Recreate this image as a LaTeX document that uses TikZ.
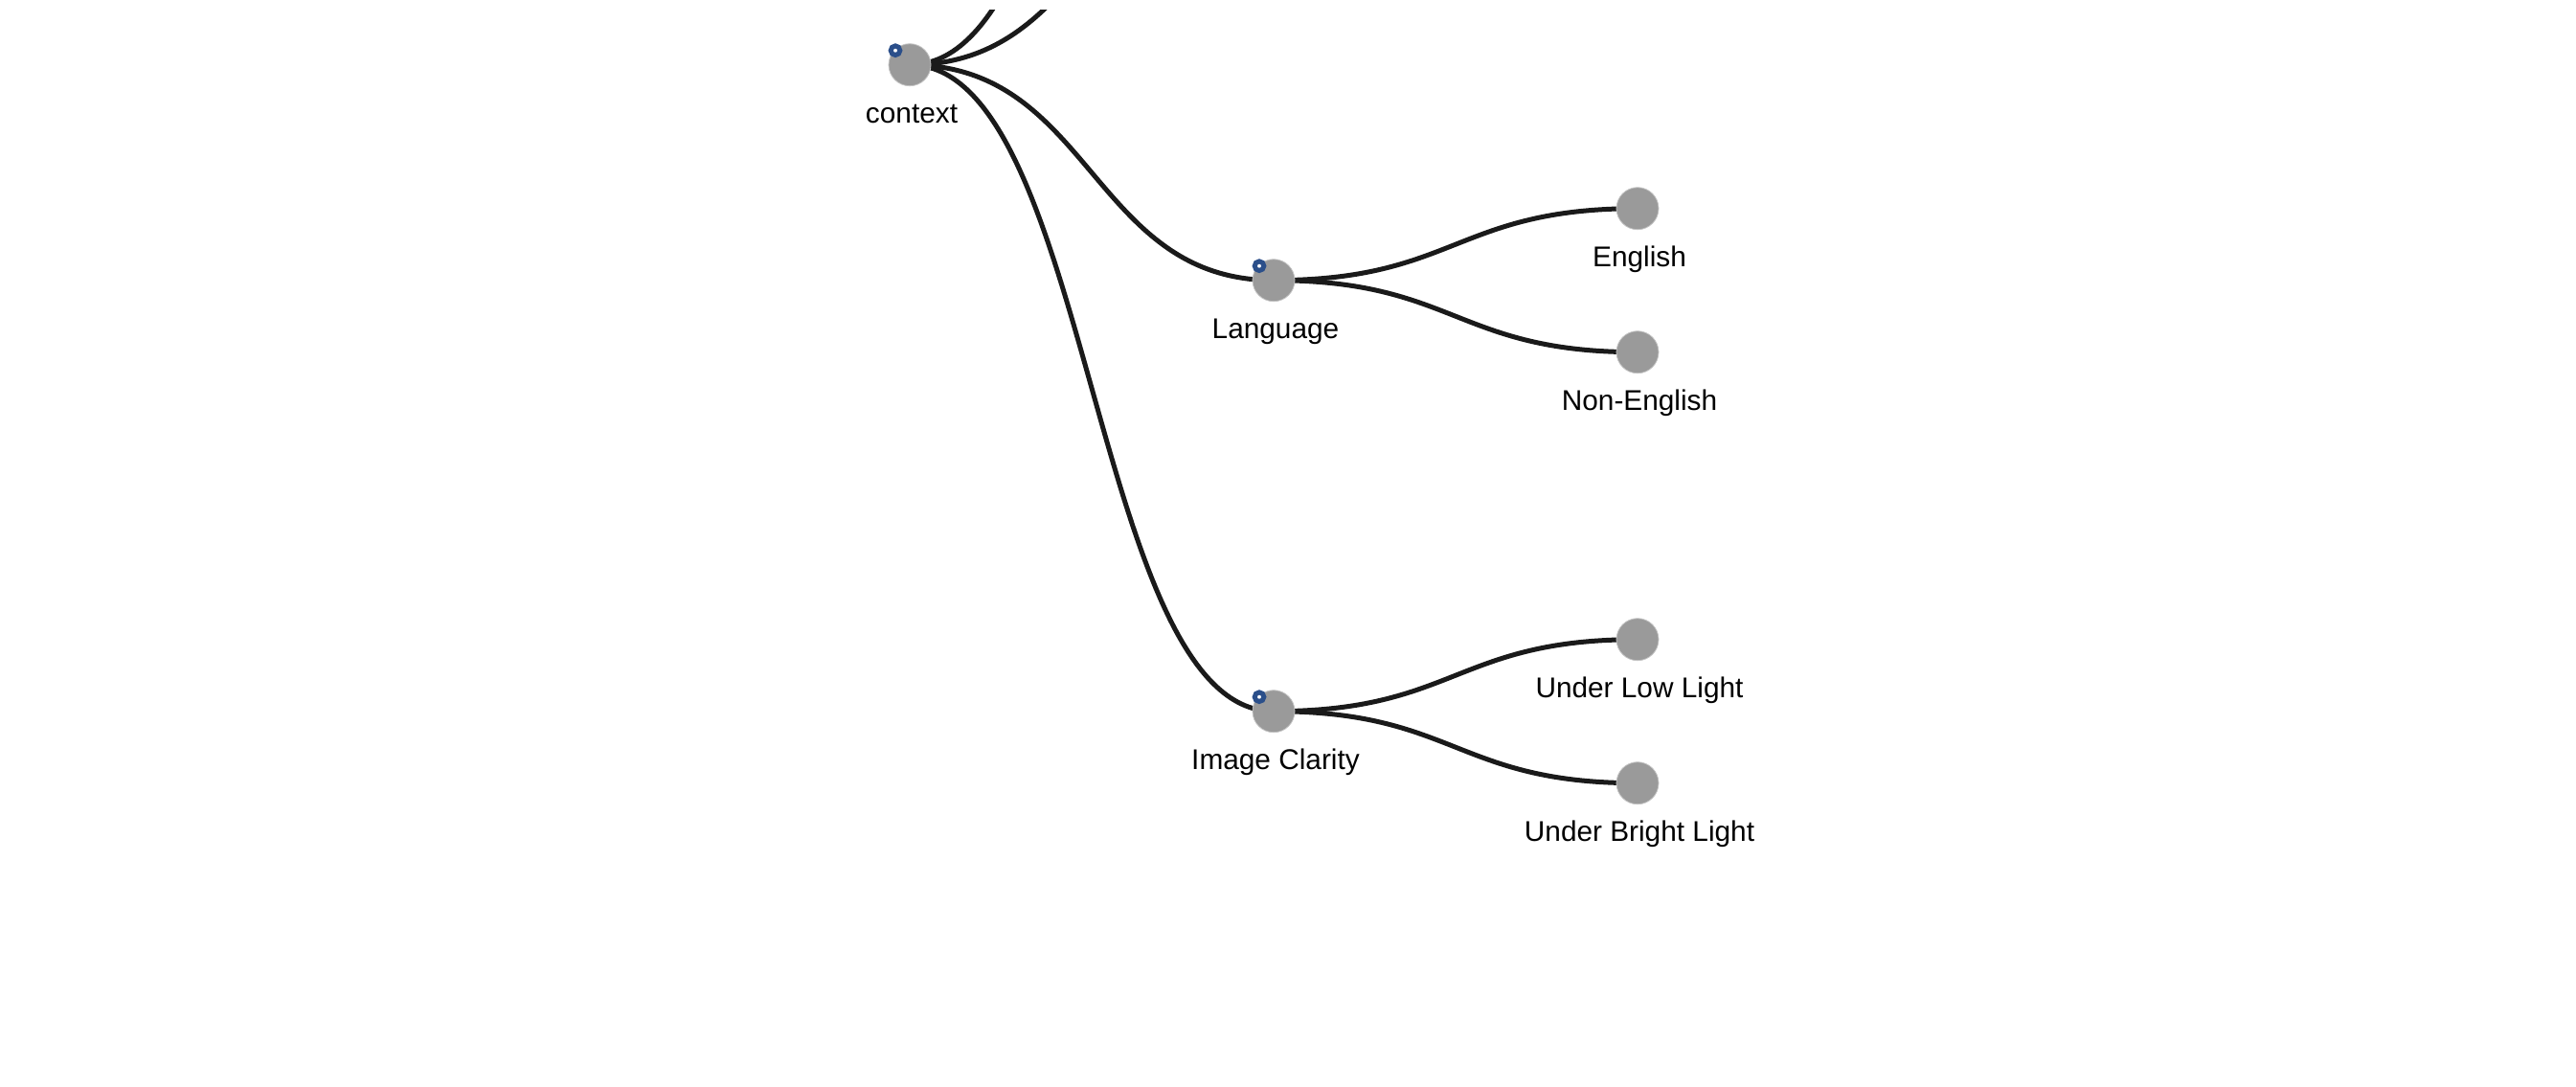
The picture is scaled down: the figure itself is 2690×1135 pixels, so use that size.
\documentclass[tikz,border=0pt]{standalone}
\usepackage{fontspec}
\setmainfont{Liberation Sans}
\usetikzlibrary{backgrounds}
\definecolor{nodegray}{HTML}{9A9A9A}
\definecolor{rimgray}{HTML}{C4C4C4}
\definecolor{edgeblack}{HTML}{1A1A1A}
\definecolor{markblue}{HTML}{2B4F8A}
\tikzset{
  treenode/.style={circle, fill=nodegray, draw=rimgray, line width=0.4pt, inner sep=0pt, minimum size=22pt},
  edge/.style={draw=edgeblack, line width=2.5pt},
  lbl/.style={anchor=base, inner sep=0pt, font=\fontsize{14.9}{17}\selectfont, text=black},
  marker/.style={circle, fill=white, draw=markblue, line width=2.5pt, inner sep=0pt, minimum size=4.8pt}
}
\begin{document}
\begin{tikzpicture}[x=0.5pt, y=-0.5pt]
\useasboundingbox (0,0) rectangle (2690,1135);
% nodes
\node[treenode] (ctx) at (950,67.7) {};
\node[treenode] (lang) at (1330,292.7) {};
\node[treenode] (img) at (1330,742.7) {};
\node[treenode] (eng) at (1710,217.7) {};
\node[treenode] (noneng) at (1710,367.7) {};
\node[treenode] (low) at (1710,667.7) {};
\node[treenode] (bright) at (1710,817.7) {};
\coordinate (sibA) at (1330,-157.3);
\coordinate (sibB) at (1330,-607.3);
% markers
\node[marker] (mctx) at (935,52.7) {};
\node[marker] (mlang) at (1315,277.7) {};
\node[marker] (mimg) at (1315,727.7) {};
% labels
\node[lbl] (lctx) at (952,128.7) {context};
\node[lbl] (llang) at (1332,353.7) {Language};
\node[lbl] (limg) at (1332,803.7) {Image Clarity};
\node[lbl] (leng) at (1712,278.7) {English};
\node[lbl] (lnoneng) at (1712,428.7) {Non-English};
\node[lbl] (llow) at (1712,728.7) {Under Low Light};
\node[lbl] (lbright) at (1712,878.7) {Under Bright Light};
% edges
\begin{scope}[on background layer]
\clip (0,10) rectangle (2690,1135);
\draw[edge] (ctx.center) .. controls (1140,67.7) and (1140,-157.3) .. (sibA);
\draw[edge] (ctx.center) .. controls (1140,67.7) and (1140,-607.3) .. (sibB);
\draw[edge] (ctx.center) .. controls (1140,67.7) and (1140,292.7) .. (lang.center);
\draw[edge] (ctx.center) .. controls (1140,67.7) and (1140,742.7) .. (img.center);
\draw[edge] (lang.center) .. controls (1520,292.7) and (1520,217.7) .. (eng.center);
\draw[edge] (lang.center) .. controls (1520,292.7) and (1520,367.7) .. (noneng.center);
\draw[edge] (img.center) .. controls (1520,742.7) and (1520,667.7) .. (low.center);
\draw[edge] (img.center) .. controls (1520,742.7) and (1520,817.7) .. (bright.center);
\end{scope}
\end{tikzpicture}
\end{document}
